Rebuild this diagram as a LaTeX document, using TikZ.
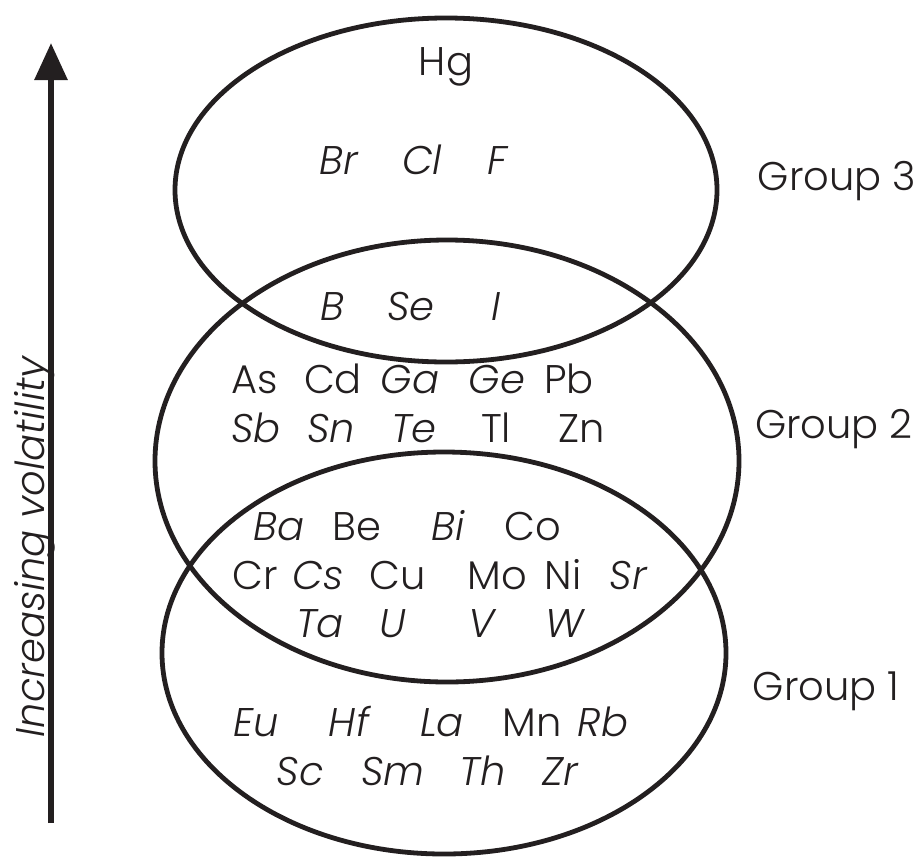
\documentclass[tikz,border=0pt]{standalone}
\usepackage{fontspec}
\setmainfont{Poppins}[UprightFont=* Light,ItalicFont=* Light Italic]
\usetikzlibrary{arrows.meta}
\begin{document}
\begin{tikzpicture}[x=0.5pt,y=-0.5pt,font=\fontsize{20}{22}\selectfont]
  \definecolor{ink}{HTML}{231F20}
  \tikzset{
    el/.style={text=ink,inner sep=0pt,anchor=base,yshift=-7pt},
    eli/.style={el,font=\fontsize{20}{22}\selectfont\itshape},
    ring/.style={draw=ink,line width=2.4pt},
    grouplab/.style={el}
  }
  % the three groups
  \draw[ring] (446,190) ellipse [x radius=271, y radius=172];
  \draw[ring] (447,461) ellipse [x radius=292, y radius=221];
  \draw[ring] (444,653) ellipse [x radius=282, y radius=201];
  \node[grouplab] (g3) at (837,176) {Group 3};
  \node[grouplab] (g2) at (834,424) {Group 2};
  \node[grouplab] (g1) at (826,686) {Group 1};
  % volatility axis
  \coordinate (axlo) at (51,823);
  \coordinate (axhi) at (51,43);
  \draw[ink,line width=3pt,-{Triangle[length=18.5pt,width=16pt]}] (axlo) -- (axhi);
  \node[text=ink,inner sep=0pt,font=\fontsize{20}{22}\selectfont\itshape,
        anchor=base,rotate=90] (vol) at (44,547) {Increasing volatility};
  % elements, upright
  \foreach \nm/\xx/\yy in {Hg/446/61,As/255/379,Cd/333/379,Pb/569/379,
      Tl/496/428,Zn/582/428,Be/357/526,Co/533/526,Cr/255/575,Cu/398/575,
      Mo/497/575,Ni/563/575,Mn/532/722}{
    \node[el] (\nm) at (\xx,\yy) {\nm};
  }
  % elements, italic
  \foreach \nm/\xx/\yy in {Br/339/160,Cl/422/160,F/497/160,B/332/306,
      Se/411/306,I/496/306,Ga/410/379,Ge/497/379,Sb/256/428,Sn/331/428,
      Te/414/428,Ba/279/526,Bi/448/526,Cs/318/575,Sr/628/575,Ta/320/623,
      U/393/623,V/482/623,W/565/623,Eu/256/722,Hf/349/722,La/442/722,
      Rb/603/722,Sc/300/771,Sm/393/771,Th/483/771,Zr/560/771}{
    \node[eli] (\nm) at (\xx,\yy) {\nm};
  }
  \path[use as bounding box] (0,0) rectangle (919,856);
\end{tikzpicture}
\end{document}
